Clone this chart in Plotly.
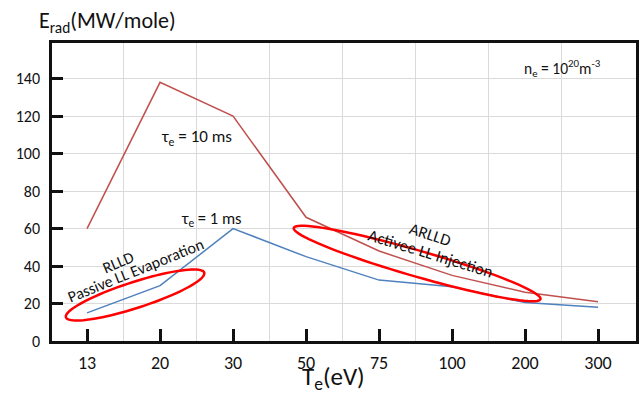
import numpy as np
import plotly.graph_objects as go

# ---- data ----
te_labels = ["13", "20", "30", "50", "75", "100", "200", "300"]
erad_10ms = [60, 138, 120, 66, 48, 35, 26, 21]
erad_1ms = [15, 29.5, 60, 45, 32.5, 29, 20.5, 18]
y_ticks = [0, 20, 40, 60, 80, 100, 120, 140]

# ---- layout geometry ----
W, H = 642, 396
L, R, T, B = 52, 3, 43, 55
XR = [-0.48, 7.52]
YR = [0, 159]
pw, ph = W - L - R, H - T - B


def px2x(px):
    return XR[0] + (px - L) / pw * (XR[1] - XR[0])


def px2y(py):
    return YR[0] + (H - B - py) / ph * (YR[1] - YR[0])


def ellipse_path(cx, cy, a, b, ang_deg, n=90):
    t = np.linspace(0, 2 * np.pi, n)
    th = np.deg2rad(ang_deg)
    xs = cx + a * np.cos(t) * np.cos(th) - b * np.sin(t) * np.sin(th)
    ys = cy + a * np.cos(t) * np.sin(th) + b * np.sin(t) * np.cos(th)
    pts = [(px2x(x), px2y(y)) for x, y in zip(xs, ys)]
    return "M " + " L ".join(f"{x:.4f},{y:.4f}" for x, y in pts) + " Z"


xpos = list(range(len(te_labels)))
FONT = "Carlito, Lato, sans-serif"

fig = go.Figure()
fig.add_trace(go.Scatter(x=xpos, y=erad_10ms, mode="lines",
                         line=dict(color="#C0504D", width=1.5), showlegend=False))
fig.add_trace(go.Scatter(x=xpos, y=erad_1ms, mode="lines",
                         line=dict(color="#4F81BD", width=1.5), showlegend=False))

shapes = [
    dict(type="path", xref="x", yref="y", path=ellipse_path(135.5, 295, 73, 13, -17.8),
         line=dict(color="#FF0000", width=2.5)),
    dict(type="path", xref="x", yref="y", path=ellipse_path(419, 263.5, 129, 13, 16),
         line=dict(color="#FF0000", width=2.5)),
]


def ann(text, px, py, size, angle=0, xanchor="center"):
    # positions given in pixels, mapped to the plot-area (paper) fraction
    return dict(text=text, x=(px - L) / pw, y=(H - B - py) / ph, xref="paper", yref="paper",
                showarrow=False, textangle=angle, xanchor=xanchor, yanchor="middle",
                font=dict(family=FONT, size=size, color="#111111"))


annotations = [
    ann("τ<sub>e</sub> = 10 ms", 197, 137, 17),
    ann("τ<sub>e</sub> = 1 ms", 212, 219, 16.5),
    ann("RLLD", 118, 262, 16, -23),
    ann("Passive LL Evaporation", 136, 270, 16, -22),
    ann("ARLLD", 432, 234, 16.5, 18),
    ann("Activee LL Injection", 432, 253, 16.5, 17),
    ann("n<sub>e</sub> = 10<sup>20</sup>m<sup>-3</sup>", 565, 68, 15.5),
    ann("E<sub>rad</sub>(MW/mole)", 37, 22, 22, xanchor="left"),
    ann("T<sub>e</sub>(eV)", 335, 378, 25),
]

fig.update_layout(
    width=W, height=H,
    margin=dict(l=L, r=R, t=T, b=B, pad=0),
    paper_bgcolor="white", plot_bgcolor="white",
    shapes=shapes, annotations=annotations,
    font=dict(family=FONT, color="#111111"),
    xaxis=dict(range=XR, tickmode="array", tickvals=xpos, ticktext=te_labels,
               showgrid=False, zeroline=False,
               ticks="inside", ticklen=12, tickwidth=2.5, tickcolor="#111111",
               showline=True, linecolor="#111111", linewidth=2.5, mirror=True,
               tickfont=dict(family=FONT, size=18, color="#111111"),
               ticklabelstandoff=4,
               minor=dict(tickvals=[i + 0.5 for i in range(len(te_labels) - 1)],
                          showgrid=True, gridcolor="#DADADA", gridwidth=1, ticks="")),
    yaxis=dict(range=YR, tickmode="array", tickvals=y_ticks,
               showgrid=True, gridcolor="#DADADA", gridwidth=1, zeroline=False,
               ticks="inside", ticklen=11, tickwidth=2.5, tickcolor="#111111",
               showline=True, linecolor="#111111", linewidth=2.5, mirror=True,
               tickfont=dict(family=FONT, size=16, color="#111111"),
               ticklabelstandoff=6),
)

fig.write_html("out.html", config={"displayModeBar": False},
               post_script="document.body.style.margin='0';document.body.style.overflow='hidden';")
